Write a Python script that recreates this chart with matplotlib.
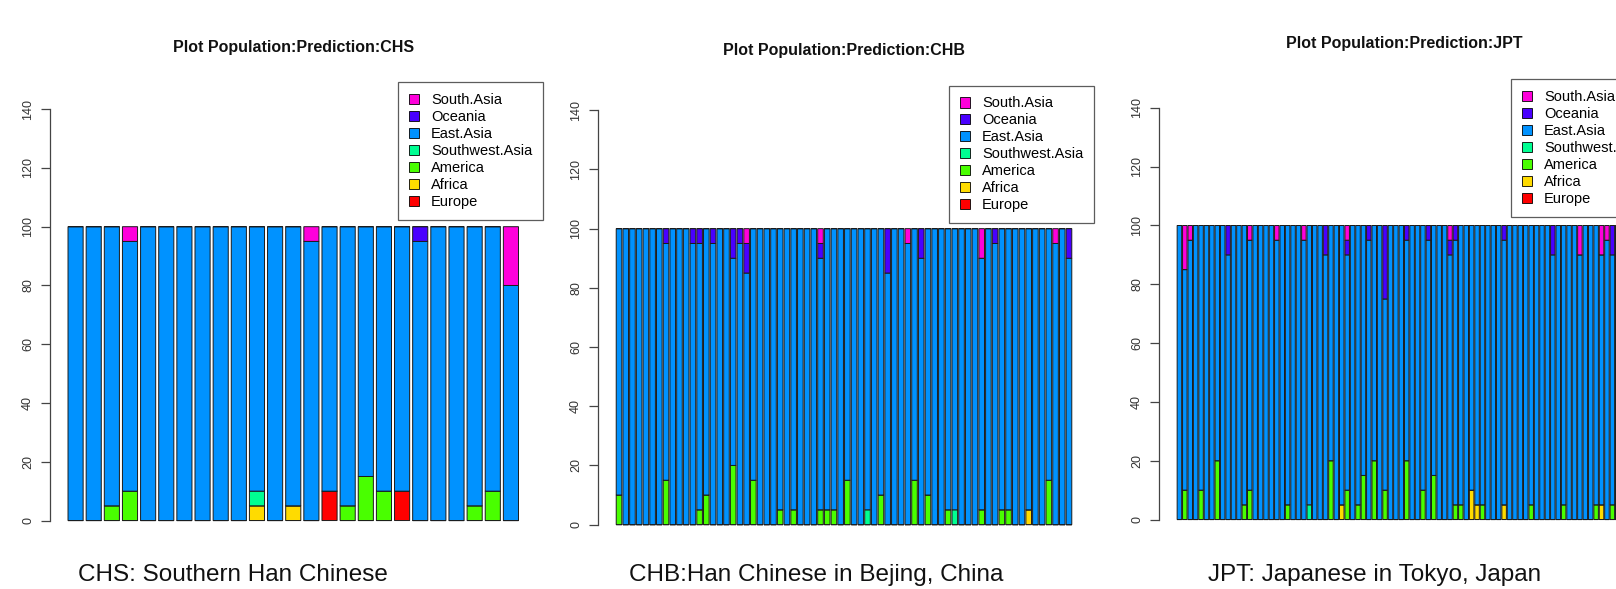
import numpy as np
import matplotlib.pyplot as plt
from matplotlib.patches import Patch

plt.rcParams['font.family'] = ['Liberation Sans', 'DejaVu Sans']

######################################################
# DATA (percent per individual, stacked bottom -> top)

regions = ['Europe', 'Africa', 'America', 'Southwest.Asia', 'East.Asia', 'Oceania', 'South.Asia']
region_colors = ['#FF0000', '#FFDB00', '#49FF00', '#00FF92', '#0092FF', '#4900FF', '#FF00DB']

titles = ['Plot Population:Prediction:CHS', 'Plot Population:Prediction:CHB', 'Plot Population:Prediction:JPT']
captions = ['CHS: Southern Han Chinese', 'CHB:Han Chinese in Bejing, China', 'JPT: Japanese in Tokyo, Japan']
y_ticks = [0, 20, 40, 60, 80, 100, 120, 140]

# CHS, 25 individuals
chs_europe    = [0, 0, 0, 0, 0,  0, 0, 0, 0, 0,  0, 0, 0, 0, 10,  0, 0, 0, 10, 0,  0, 0, 0, 0, 0]
chs_africa    = [0, 0, 0, 0, 0,  0, 0, 0, 0, 0,  5, 0, 5, 0, 0,  0, 0, 0, 0, 0,  0, 0, 0, 0, 0]
chs_america   = [0, 0, 5, 10, 0,  0, 0, 0, 0, 0,  0, 0, 0, 0, 0,  5, 15, 10, 0, 0,  0, 0, 5, 10, 0]
chs_southwest = [0, 0, 0, 0, 0,  0, 0, 0, 0, 0,  5, 0, 0, 0, 0,  0, 0, 0, 0, 0,  0, 0, 0, 0, 0]
chs_east      = [100, 100, 95, 85, 100,  100, 100, 100, 100, 100,  90, 100, 95, 95, 90,
                 95, 85, 90, 90, 95,  100, 100, 95, 90, 80]
chs_oceania   = [0, 0, 0, 0, 0,  0, 0, 0, 0, 0,  0, 0, 0, 0, 0,  0, 0, 0, 0, 5,  0, 0, 0, 0, 0]
chs_south     = [0, 0, 0, 5, 0,  0, 0, 0, 0, 0,  0, 0, 0, 5, 0,  0, 0, 0, 0, 0,  0, 0, 0, 0, 20]

# CHB, 68 individuals
chb_europe    = [0, 0, 0, 0, 0, 0, 0, 0, 0, 0,  0, 0, 0, 0, 0, 0, 0, 0, 0, 0,
                 0, 0, 0, 0, 0, 0, 0, 0, 0, 0,  0, 0, 0, 0, 0, 0, 0, 0, 0, 0,
                 0, 0, 0, 0, 0, 0, 0, 0, 0, 0,  0, 0, 0, 0, 0, 0, 0, 0, 0, 0,
                 0, 0, 0, 0, 0, 0, 0, 0]
chb_africa    = [0, 0, 0, 0, 0, 0, 0, 0, 0, 0,  0, 0, 0, 0, 0, 0, 0, 0, 0, 0,
                 0, 0, 0, 0, 0, 0, 0, 0, 0, 0,  0, 0, 0, 0, 0, 0, 0, 0, 0, 0,
                 0, 0, 0, 0, 0, 0, 0, 0, 0, 0,  0, 0, 0, 0, 0, 0, 0, 0, 0, 0,
                 0, 5, 0, 0, 0, 0, 0, 0]
chb_america   = [10, 0, 0, 0, 0, 0, 0, 15, 0, 0,  0, 0, 5, 10, 0, 0, 0, 20, 0, 0,
                 15, 0, 0, 0, 5, 0, 5, 0, 0, 0,  5, 5, 5, 0, 15, 0, 0, 0, 0, 10,
                 0, 0, 0, 0, 15, 0, 10, 0, 0, 5,  0, 0, 0, 0, 5, 0, 0, 5, 5, 0,
                 0, 0, 0, 0, 15, 0, 0, 0]
chb_southwest = [0, 0, 0, 0, 0, 0, 0, 0, 0, 0,  0, 0, 0, 0, 0, 0, 0, 0, 0, 0,
                 0, 0, 0, 0, 0, 0, 0, 0, 0, 0,  0, 0, 0, 0, 0, 0, 0, 5, 0, 0,
                 0, 0, 0, 0, 0, 0, 0, 0, 0, 0,  5, 0, 0, 0, 0, 0, 0, 0, 0, 0,
                 0, 0, 0, 0, 0, 0, 0, 0]
chb_east      = [90, 100, 100, 100, 100, 100, 100, 80, 100, 100,
                 100, 95, 90, 90, 95, 100, 100, 70, 95, 85,
                 85, 100, 100, 100, 95, 100, 95, 100, 100, 100,
                 85, 95, 95, 100, 85, 100, 100, 95, 100, 90,
                 85, 100, 100, 95, 85, 90, 90, 100, 100, 95,
                 95, 100, 100, 100, 85, 100, 95, 95, 95, 100,
                 100, 95, 100, 100, 85, 95, 100, 90]
chb_oceania   = [0, 0, 0, 0, 0, 0, 0, 5, 0, 0,  0, 5, 5, 0, 5, 0, 0, 10, 5, 10,
                 0, 0, 0, 0, 0, 0, 0, 0, 0, 0,  5, 0, 0, 0, 0, 0, 0, 0, 0, 0,
                 15, 0, 0, 0, 0, 10, 0, 0, 0, 0,  0, 0, 0, 0, 0, 0, 5, 0, 0, 0,
                 0, 0, 0, 0, 0, 0, 0, 10]
chb_south     = [0, 0, 0, 0, 0, 0, 0, 0, 0, 0,  0, 0, 0, 0, 0, 0, 0, 0, 0, 5,
                 0, 0, 0, 0, 0, 0, 0, 0, 0, 0,  5, 0, 0, 0, 0, 0, 0, 0, 0, 0,
                 0, 0, 0, 5, 0, 0, 0, 0, 0, 0,  0, 0, 0, 0, 10, 0, 0, 0, 0, 0,
                 0, 0, 0, 0, 0, 5, 0, 0]

# JPT, 84 individuals (the last ones fall outside the picture)
jpt_europe    = [0, 0, 0, 0, 0, 0, 0, 0, 0, 0,  0, 0, 0, 0, 0, 0, 0, 0, 0, 0,
                 0, 0, 0, 0, 0, 0, 0, 0, 0, 0,  0, 0, 0, 0, 0, 0, 0, 0, 0, 0,
                 0, 0, 0, 0, 0, 0, 0, 0, 0, 0,  0, 0, 0, 0, 0, 0, 0, 0, 0, 0,
                 0, 0, 0, 0, 0, 0, 0, 0, 0, 0,  0, 0, 0, 0, 0, 0, 0, 0, 0, 0,
                 0, 0, 0, 0]
jpt_africa    = [0, 0, 0, 0, 0, 0, 0, 0, 0, 0,  0, 0, 0, 0, 0, 0, 0, 0, 0, 0,
                 0, 0, 0, 0, 0, 0, 0, 0, 0, 0,  5, 0, 0, 0, 0, 0, 0, 0, 0, 0,
                 0, 0, 0, 0, 0, 0, 0, 0, 0, 0,  0, 0, 0, 0, 10, 5, 0, 0, 0, 0,
                 5, 0, 0, 0, 0, 0, 0, 0, 0, 0,  0, 0, 0, 0, 0, 0, 0, 0, 5, 0,
                 0, 0, 0, 0]
jpt_america   = [0, 10, 0, 0, 10, 0, 0, 20, 0, 0,  0, 0, 5, 10, 0, 0, 0, 0, 0, 0,
                 5, 0, 0, 0, 0, 0, 0, 0, 20, 0,  0, 10, 0, 5, 15, 0, 20, 0, 10, 0,
                 0, 0, 20, 0, 0, 10, 0, 15, 0, 0,  0, 5, 5, 0, 0, 0, 5, 0, 0, 0,
                 0, 0, 0, 0, 0, 5, 0, 0, 0, 0,  0, 5, 0, 0, 0, 0, 0, 5, 0, 0,
                 5, 0, 0, 0]
jpt_southwest = [0, 0, 0, 0, 0, 0, 0, 0, 0, 0,  0, 0, 0, 0, 0, 0, 0, 0, 0, 0,
                 0, 0, 0, 0, 5, 0, 0, 0, 0, 0,  0, 0, 0, 0, 0, 0, 0, 0, 0, 0,
                 0, 0, 0, 0, 0, 0, 0, 0, 0, 0,  0, 0, 0, 0, 0, 0, 0, 0, 0, 0,
                 0, 0, 0, 0, 0, 0, 0, 0, 0, 0,  0, 0, 0, 0, 0, 0, 0, 0, 0, 0,
                 0, 0, 0, 0]
jpt_east      = [100, 75, 95, 100, 90, 100, 100, 80, 100, 90,
                 100, 100, 95, 85, 100, 100, 100, 100, 95, 100,
                 95, 100, 100, 95, 95, 100, 100, 90, 80, 100,
                 95, 80, 100, 95, 85, 95, 80, 100, 65, 100,
                 100, 100, 75, 100, 100, 90, 95, 85, 100, 100,
                 90, 90, 95, 100, 90, 95, 95, 100, 100, 100,
                 90, 100, 100, 100, 100, 95, 100, 100, 100, 90,
                 100, 95, 100, 100, 90, 100, 100, 95, 85, 95,
                 85, 100, 100, 100]
jpt_oceania   = [0, 0, 0, 0, 0, 0, 0, 0, 0, 10,  0, 0, 0, 0, 0, 0, 0, 0, 0, 0,
                 0, 0, 0, 0, 0, 0, 0, 10, 0, 0,  0, 5, 0, 0, 0, 5, 0, 0, 25, 0,
                 0, 0, 5, 0, 0, 0, 5, 0, 0, 0,  5, 5, 0, 0, 0, 0, 0, 0, 0, 0,
                 5, 0, 0, 0, 0, 0, 0, 0, 0, 10,  0, 0, 0, 0, 0, 0, 0, 0, 0, 0,
                 10, 0, 0, 0]
jpt_south     = [0, 15, 5, 0, 0, 0, 0, 0, 0, 0,  0, 0, 0, 5, 0, 0, 0, 0, 5, 0,
                 0, 0, 0, 5, 0, 0, 0, 0, 0, 0,  0, 5, 0, 0, 0, 0, 0, 0, 0, 0,
                 0, 0, 0, 0, 0, 0, 0, 0, 0, 0,  5, 0, 0, 0, 0, 0, 0, 0, 0, 0,
                 0, 0, 0, 0, 0, 0, 0, 0, 0, 0,  0, 0, 0, 0, 10, 0, 0, 0, 10, 5,
                 0, 0, 0, 0]

panels = [
    [chs_europe, chs_africa, chs_america, chs_southwest, chs_east, chs_oceania, chs_south],
    [chb_europe, chb_africa, chb_america, chb_southwest, chb_east, chb_oceania, chb_south],
    [jpt_europe, jpt_africa, jpt_america, jpt_southwest, jpt_east, jpt_oceania, jpt_south],
]

######################################################
# LAYOUT (pixels of the 1616x589 picture)

W, H = 1616, 589
# left, right, top, bottom of each plot region
boxes = [(50, 536.5, 92.7, 537), (598, 1090, 93.7, 541.2), (1159, 1649, 91.4, 536)]
title_pos = [(294, 47.4), (844, 50.5), (1404, 43.3)]
caption_pos = [(78, 575), (629, 575), (1208, 575)]
legend_pos = [(397.8, 82.4), (949, 85.5), (1511, 79.4)]

fig = plt.figure(figsize=(W / 100, H / 100), dpi=100)

for k, series in enumerate(panels):
    l, r, t, b = boxes[k]
    ax = fig.add_axes([l / W, 1 - b / H, (r - l) / W, (b - t) / H])

    n = len(series[0])
    centers = 0.7 + 1.2 * np.arange(n)
    base = np.zeros(n)
    for vals, col in zip(series, region_colors):
        bars = ax.bar(centers, vals, width=1.0, bottom=base, color=col,
                      edgecolor='#1a1a1a', linewidth=0.7)
        for p in bars:
            p.set_snap(False)
        base += np.array(vals)

    span = 1.2 * n - 0.2
    ax.set_xlim(0.2 - 0.04 * span, 1.2 * n + 0.04 * span)
    ax.set_ylim(-5.6, 145.6)

    for s in ['top', 'right', 'bottom']:
        ax.spines[s].set_visible(False)
    ax.spines['left'].set_bounds(0, 140)
    ax.spines['left'].set_color('#444444')
    ax.spines['left'].set_linewidth(0.9)
    ax.set_xticks([])
    ax.set_yticks(y_ticks)
    ax.tick_params(axis='y', direction='out', length=6.2, width=0.9, color='#444444',
                   labelsize=9, labelcolor='#333333', pad=5.3)
    for lab in ax.get_yticklabels():
        lab.set_rotation(90)
        lab.set_va('center')

    handles = [Patch(facecolor=c, edgecolor='black', linewidth=0.6, label=lb)
               for lb, c in zip(regions[::-1], region_colors[::-1])]
    lx, ly = legend_pos[k]
    leg = ax.legend(handles=handles, loc='upper left', bbox_to_anchor=(lx / W, 1 - ly / H),
                    bbox_transform=fig.transFigure, frameon=True, fancybox=False,
                    edgecolor='#333333', fontsize=10.5, handlelength=0.72, handleheight=0.72,
                    handletextpad=0.8, labelspacing=0.2, borderpad=0.75, borderaxespad=0)
    leg.get_frame().set_linewidth(0.9)

    tx, ty = title_pos[k]
    fig.text(tx / W, 1 - ty / H, titles[k], ha='center', va='center',
             fontsize=11.5, fontweight='bold', color='#111111')
    cx, cy = caption_pos[k]
    fig.text(cx / W, 1 - cy / H, captions[k], ha='left', va='center',
             fontsize=17.5, color='#111111')

fig.savefig('out.png', dpi=100)
